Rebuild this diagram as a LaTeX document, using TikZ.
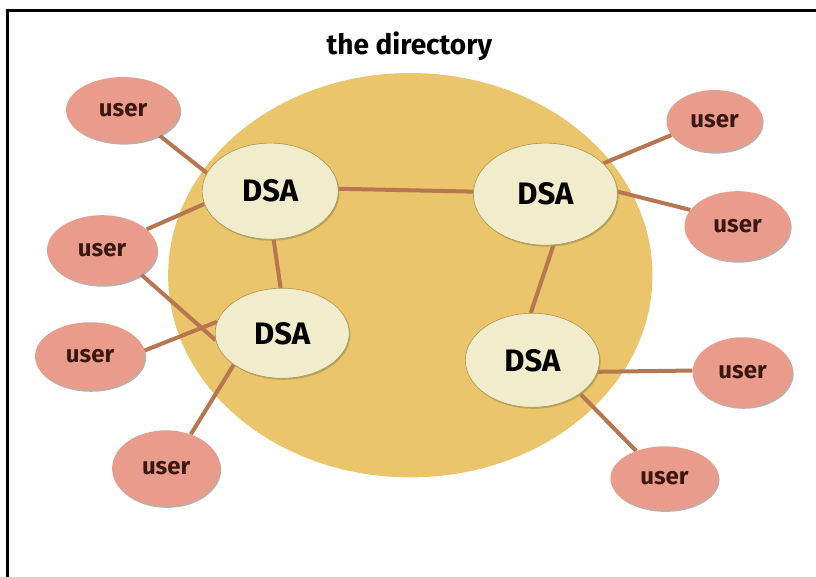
\documentclass[tikz,border=0pt]{standalone}
\usepackage{fontspec}
\setmainfont{Fira Sans}
\usetikzlibrary{shapes.geometric,shadows}
\pgfdeclarelayer{back}
\pgfdeclarelayer{links}
\pgfsetlayers{back,links,main}
\definecolor{dirfill}{HTML}{EAC56C}
\definecolor{dsafill}{HTML}{F1ECCB}
\definecolor{dsaedge}{HTML}{A89650}
\definecolor{userfill}{HTML}{EA9C8C}
\definecolor{usertext}{HTML}{3A1810}
\definecolor{linkcol}{HTML}{B7764F}
\tikzset{
  dsa/.style={ellipse, fill=dsafill, draw=dsaedge, line width=0.6pt, inner sep=0pt,
    font=\fontsize{31}{33}\selectfont\bfseries, text=black,
    drop shadow={shadow xshift=1.2pt, shadow yshift=-1.5pt, fill=dsaedge, opacity=0.7}},
  usr/.style={ellipse, fill=userfill, inner sep=0pt,
    font=\fontsize{24}{26}\selectfont\bfseries, text=usertext,
    drop shadow={shadow xshift=1pt, shadow yshift=-1.5pt, fill=gray, opacity=0.6}},
  link/.style={draw=linkcol, line width=4pt},
  frameline/.style={line width=3pt, draw=black}
}
\begin{document}
\begin{tikzpicture}[x=1pt,y=-1pt]
\useasboundingbox (0,0) rectangle (815.4,576);
\begin{pgfonlayer}{back}
  \fill[white] (-6,-6) rectangle (822,582);
  \node[ellipse, fill=dirfill, minimum width=484pt, minimum height=404pt] (dir) at (410,275) {};
\end{pgfonlayer}
\draw[frameline] (7.5,10) -- (820,10);
\draw[frameline] (7.5,8.5) -- (7.5,580);

\node[font=\fontsize{28}{30}\selectfont\bfseries] (title) at (409,46) {the directory};

\node[dsa, minimum width=136pt, minimum height=96pt] (d1) at (270,191) {DSA};
\node[dsa, minimum width=144pt, minimum height=102pt] (d2) at (545,194) {DSA};
\node[dsa, minimum width=134pt, minimum height=90pt] (d3) at (282,333) {DSA};
\node[dsa, minimum width=134pt, minimum height=94pt] (d4) at (532,360) {DSA};

\node[usr, minimum width=114pt, minimum height=66pt] (u1) at (123,110) {user};
\node[usr, minimum width=110pt, minimum height=70pt] (u2) at (102,250) {user};
\node[usr, minimum width=110pt, minimum height=68pt] (u3) at (90,356) {user};
\node[usr, minimum width=108pt, minimum height=76pt] (u4) at (166,468) {user};
\node[usr, minimum width=96pt, minimum height=62pt] (u5) at (714,121) {user};
\node[usr, minimum width=106pt, minimum height=70pt] (u6) at (737,226) {user};
\node[usr, minimum width=100pt, minimum height=70pt] (u7) at (742,372) {user};
\node[usr, minimum width=108pt, minimum height=64pt] (u8) at (664,478) {user};

\begin{pgfonlayer}{links}
  \draw[link] (u1.-35) -- (d1.164);
  \draw[link] (u2.25) -- (d1.-169);
  \draw[link] (u2.-32) -- (d3.-174);
  \draw[link] (u3.6) -- (d3.170);
  \draw[link] (u4.54) -- (d3.-147);
  \draw[link] (d1.2) -- (d2.178);
  \draw[link] (d1.-86) -- (d3.92);
  \draw[link] (d2.-81) -- (d4.92);
  \draw[link] (u5.-162) -- (d2.28);
  \draw[link] (u6.161) -- (d2.2);
  \draw[link] (u7.178) -- (d4.-10);
  \draw[link] (u8.136) -- (d4.-35);
\end{pgfonlayer}
\end{tikzpicture}
\end{document}
